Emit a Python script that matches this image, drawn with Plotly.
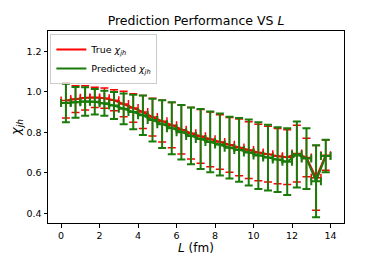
import plotly.graph_objects as go

L_fm = [0.25, 0.75, 1.25, 1.75, 2.25, 2.75, 3.25, 3.75, 4.25, 4.75, 5.25, 5.75, 6.25, 6.75,
        7.25, 7.75, 8.25, 8.75, 9.25, 9.75, 10.25, 10.75, 11.25, 11.75, 12.25, 12.75, 13.25, 13.75]
L_err = [0.25] * len(L_fm)

true_chi = [0.957, 0.964, 0.970, 0.972, 0.968, 0.958, 0.940, 0.920, 0.900, 0.875, 0.855, 0.835, 0.813, 0.795,
            0.780, 0.765, 0.752, 0.738, 0.725, 0.712, 0.700, 0.692, 0.682, 0.677, 0.695, 0.675, 0.575, 0.687]
true_err = [0.087, 0.066, 0.060, 0.050, 0.050, 0.052, 0.063, 0.070, 0.082, 0.093, 0.103, 0.112, 0.120, 0.127,
            0.133, 0.135, 0.135, 0.135, 0.140, 0.140, 0.140, 0.138, 0.136, 0.135, 0.140, 0.095, 0.160, 0.075]

pred_chi = [0.945, 0.948, 0.952, 0.951, 0.943, 0.932, 0.916, 0.900, 0.884, 0.860, 0.840, 0.820, 0.800, 0.782,
            0.767, 0.752, 0.740, 0.724, 0.713, 0.700, 0.685, 0.675, 0.665, 0.655, 0.690, 0.670, 0.558, 0.683]
pred_err = [0.095, 0.076, 0.070, 0.063, 0.062, 0.067, 0.076, 0.085, 0.097, 0.106, 0.118, 0.128, 0.135, 0.140,
            0.148, 0.150, 0.153, 0.152, 0.157, 0.163, 0.165, 0.162, 0.160, 0.165, 0.163, 0.150, 0.178, 0.080]

x_ticks = [0, 2, 4, 6, 8, 10, 12, 14]
y_ticks = [0.4, 0.6, 0.8, 1.0, 1.2]

FONT = "DejaVu Sans"

fig = go.Figure()


def add_series(y, yerr, color, name, thick):
    fig.add_trace(go.Scatter(
        x=L_fm, y=y, mode="lines", name=name,
        line=dict(color=color, width=2),
        error_y=dict(type="data", array=yerr, visible=True, color=color, thickness=thick, width=4),
        error_x=dict(type="data", array=L_err, visible=True, color=color, thickness=thick, width=4),
    ))


add_series(true_chi, true_err, "#ff0000", "True <i>χ<sub>jh</sub></i>", 1.5)
add_series(pred_chi, pred_err, "#1a7a0a", "Predicted <i>χ<sub>jh</sub></i>", 2)

axis_common = dict(
    showgrid=False, zeroline=False, showline=True, linecolor="#000000", linewidth=1,
    mirror=True, ticks="outside", ticklen=3.5, tickwidth=1, tickcolor="#000000",
    tickfont=dict(family=FONT, size=9.5, color="#000000"), automargin=False,
)

fig.update_layout(
    width=374, height=247,
    margin=dict(l=40, r=38, t=23, b=32),
    paper_bgcolor="white", plot_bgcolor="white",
    title=dict(text="Prediction Performance VS <i>L</i>", x=0.5, xref="paper", xanchor="center",
               y=0.95, yanchor="middle", yref="container",
               font=dict(family=FONT, size=12.5, color="#000000")),
    xaxis=dict(range=[-0.68, 14.7], tickvals=x_ticks, ticktext=[str(v) for v in x_ticks],
               title=dict(text="<i>L</i> (fm)", font=dict(family=FONT, size=12, color="#000000")),
               **axis_common),
    yaxis=dict(range=[0.352, 1.30], tickvals=y_ticks, ticktext=[f"{v:.1f}" for v in y_ticks],
               title=dict(text="<i>χ<sub>jh</sub></i>", font=dict(family=FONT, size=13, color="#000000")),
               **axis_common),
    legend=dict(x=0.008, y=0.985, xanchor="left", yanchor="top",
                bgcolor="rgba(255,255,255,0.8)", bordercolor="#cccccc", borderwidth=1,
                font=dict(family=FONT, size=9.5, color="#000000"),
                tracegroupgap=0, itemwidth=30),
    showlegend=True,
)

fig.write_html("out.html")
